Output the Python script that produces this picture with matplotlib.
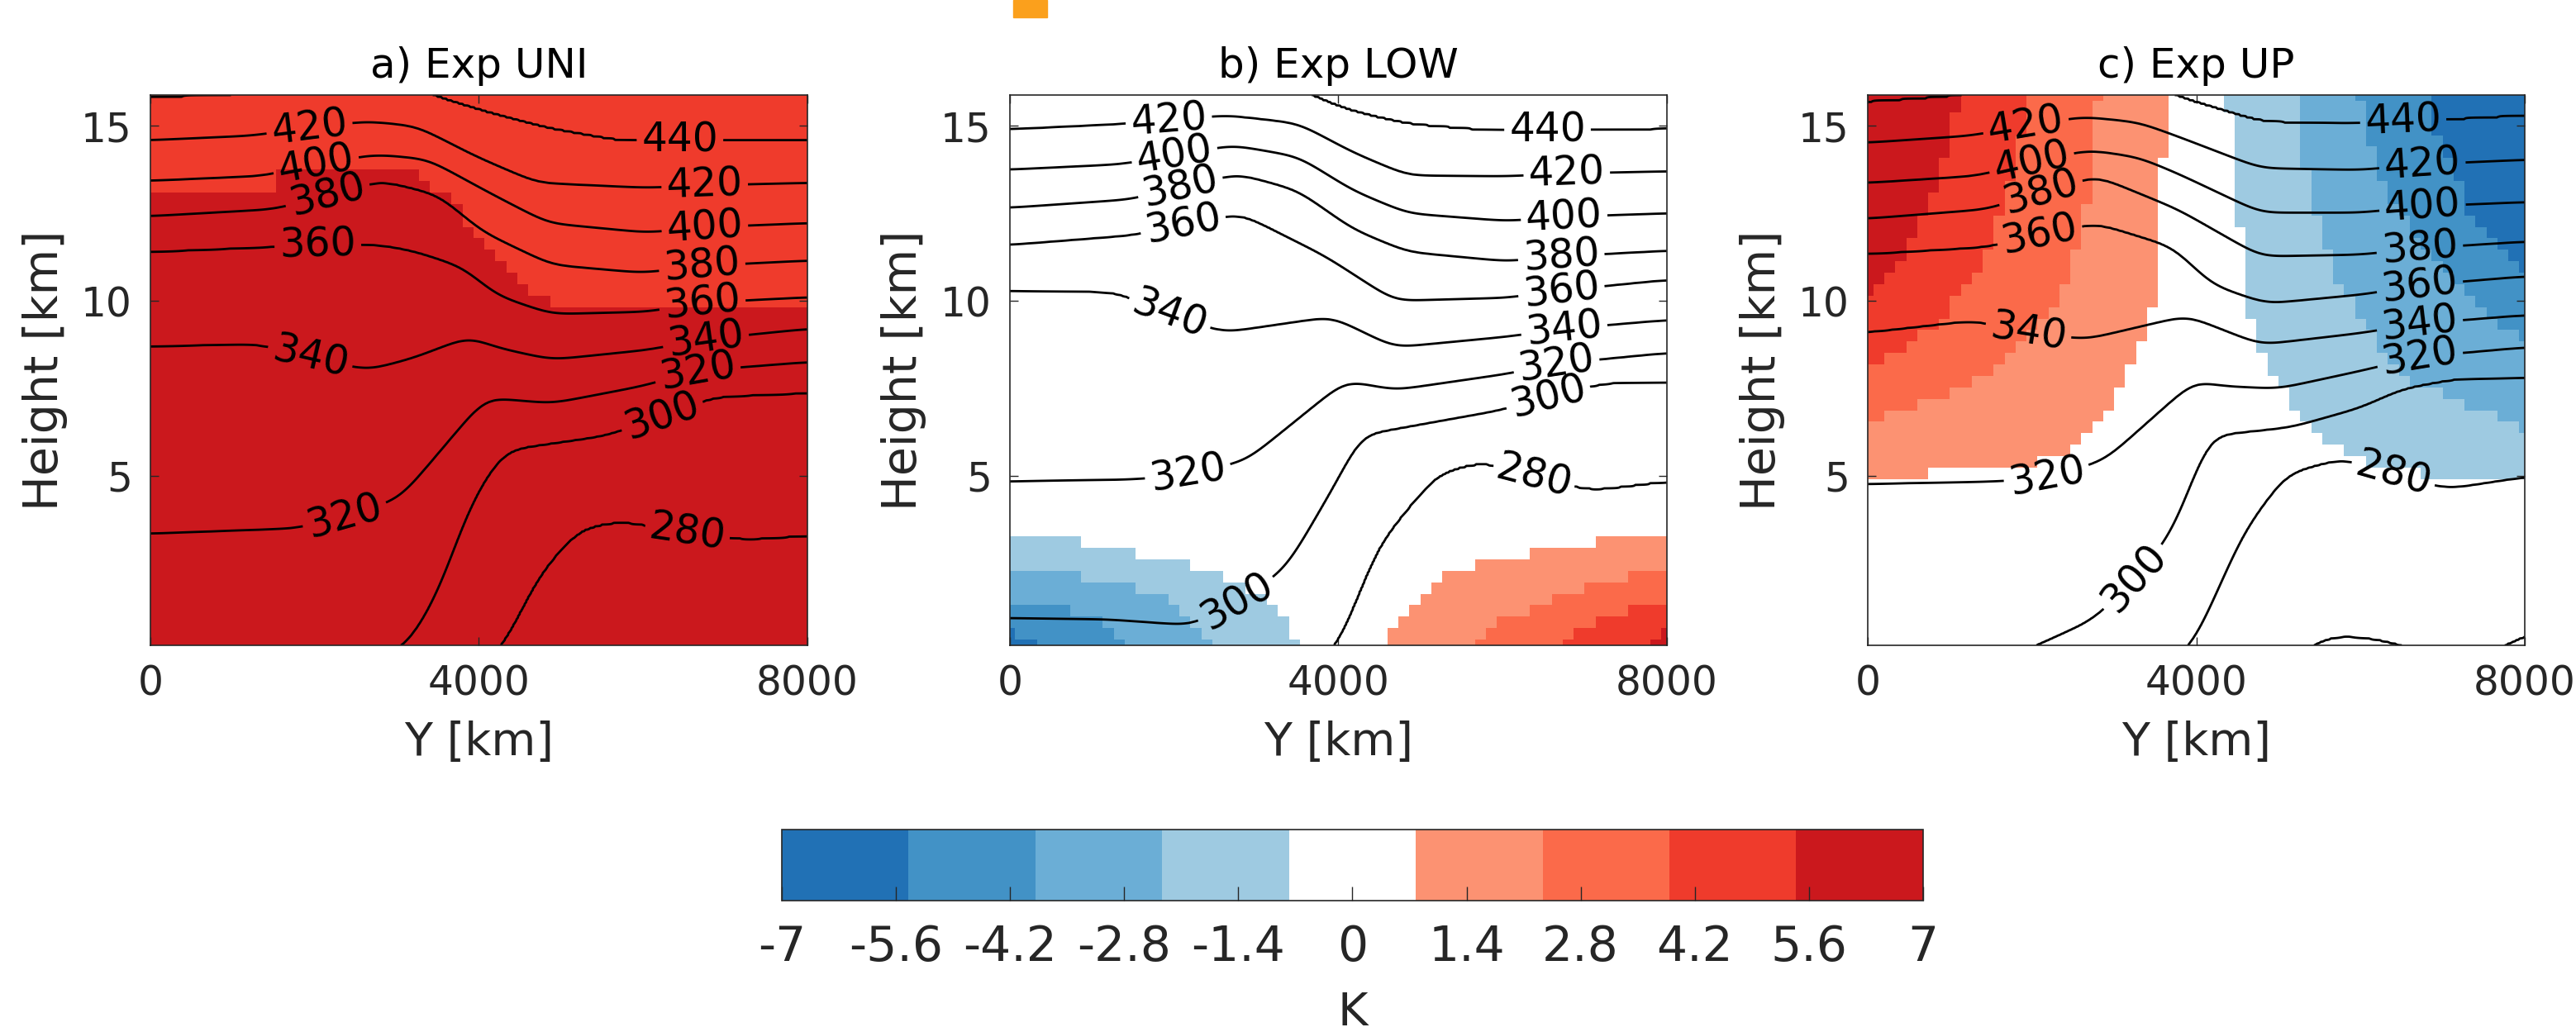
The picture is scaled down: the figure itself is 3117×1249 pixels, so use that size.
import numpy as np
import matplotlib
matplotlib.use("Agg")
import matplotlib.pyplot as plt
from matplotlib.colors import ListedColormap
from matplotlib.patches import Rectangle

plt.rcParams['font.family'] = ['DejaVu Sans']

# ---------------- data ----------------
titles = ['a) Exp UNI', 'b) Exp LOW', 'c) Exp UP']
theta_levels = [260, 280, 300, 320, 340, 360, 380, 400, 420, 440]
cbar_ticks = [-7, -5.6, -4.2, -2.8, -1.4, 0, 1.4, 2.8, 4.2, 5.6, 7]
band_colors = ['#2171b5', '#4292c6', '#6baed6', '#9ecae1', '#ffffff',
               '#fc9272', '#fb6a4a', '#ef3b2c', '#cb181d']

# isentrope heights, (Y [km], z [km]); points outside 0..16 km are off-panel
UNI_280 = [(0, -4), (2500, -3), (3800, -1), (4311, 0.17), (4716, 2.14), (5220, 3.49),
           (5723, 3.72), (6400, 3.45), (7235, 3.18), (8000, 3.3)]
UNI_300 = [(0, -1.5), (2500, -0.5), (3141, 0.17), (3508, 1.66), (3879, 4.12), (4212, 5.44),
           (4350, 5.75), (5550, 6.15), (6215, 6.7), (6862, 7.26), (8000, 7.37)]
UNI_320 = [(0, 3.35), (1771, 3.5), (2400, 3.85), (3041, 4.36), (4080, 7.24), (4887, 7.07),
           (5995, 7.57), (6650, 8.0), (8000, 8.25)]
UNI_340 = [(0, 8.7), (1303, 8.77), (1938, 8.4), (2640, 8.02), (3204, 8.37), (3879, 8.98),
           (4212, 8.67), (4887, 8.32), (6056, 8.6), (6750, 8.9), (8000, 9.2)]
UNI_360 = [(0, 11.4), (1437, 11.54), (2038, 11.6), (2773, 11.61), (3204, 11.43), (3809, 10.96),
           (4212, 10.16), (4887, 9.62), (6056, 9.69), (6716, 9.95), (8000, 10.1)]
UNI_380 = [(0, 12.42), (1504, 12.62), (2139, 13.0), (2807, 13.44), (3508, 13.03), (4040, 11.98),
           (4887, 11.03), (5995, 10.8), (6716, 11.0), (8000, 11.15)]
UNI_400 = [(0, 13.43), (1370, 13.57), (2005, 13.9), (2740, 14.18), (3375, 14.05), (4177, 13.03),
           (4845, 12.22), (6048, 11.95), (6750, 12.1), (8000, 12.22)]
UNI_420 = [(0, 14.59), (1236, 14.72), (1938, 14.95), (2640, 15.13), (3241, 14.99), (3976, 14.11),
           (4711, 13.37), (6048, 13.23), (6750, 13.3), (8000, 13.37)]
UNI_440 = [(0, 15.8), (1236, 15.9), (2400, 16.3), (3400, 15.95), (3508, 15.8), (4177, 15.33),
           (4845, 14.92), (5714, 14.56), (8000, 14.56)]

LOW_280 = [(0, -4), (3000, -2), (3700, -0.5), (4011, 0.18), (4474, 3.0), (5200, 5.07),
           (5753, 5.42), (6382, 5.0), (7073, 4.59), (8000, 4.85)]
LOW_300 = [(0, 0.94), (1200, 0.9), (2206, 0.73), (2773, 1.4), (3365, 2.35), (4111, 5.37),
           (4232, 6.15), (5935, 6.86), (6549, 7.25), (7245, 7.66), (8000, 7.68)]
LOW_320 = [(0, 4.84), (1541, 4.9), (2172, 5.04), (2882, 5.44), (4091, 7.73), (4685, 7.45),
           (6066, 7.92), (6650, 8.2), (8000, 8.51)]
LOW_340 = [(0, 10.3), (1310, 10.25), (1938, 9.6), (2610, 9.1), (3920, 9.55), (4685, 8.67),
           (6066, 8.98), (6750, 9.2), (8000, 9.45)]
LOW_360 = [(0, 11.6), (1512, 11.88), (2105, 12.2), (2811, 12.5), (3850, 11.27), (4685, 10.0),
           (6066, 10.09), (6716, 10.3), (8000, 10.6)]
LOW_380 = [(0, 12.66), (1471, 12.9), (2072, 13.25), (2781, 13.63), (3508, 13.16), (4177, 12.05),
           (4845, 11.4), (6048, 11.13), (6716, 11.27), (8000, 11.43)]
LOW_400 = [(0, 13.75), (1340, 13.9), (2005, 14.15), (2710, 14.45), (3517, 14.12), (4181, 13.15),
           (4847, 12.5), (6055, 12.28), (6750, 12.4), (8000, 12.5)]
LOW_420 = [(0, 14.9), (1271, 15.04), (1938, 15.15), (2640, 15.3), (3517, 15.07), (4181, 14.24),
           (4847, 13.58), (6055, 13.56), (6783, 13.64), (8000, 13.7)]
LOW_440 = [(0, 16.6), (2500, 16.8), (3400, 16.2), (3728, 15.8), (4181, 15.4), (4847, 15.04),
           (5855, 14.85), (6549, 14.86), (8000, 14.9)]

UP_260 = [(0, -6), (4000, -3), (5100, -0.4), (5400, 0.2), (5710, 0.45), (6200, 0.35),
          (6600, 0.1), (7200, -0.2), (7750, 0.1), (8000, 0.5)]
UP_280 = [(0, -4), (3000, -1.5), (3600, -0.5), (3970, 0.18), (4573, 3.4), (5095, 5.07),
          (5787, 5.51), (6387, 5.05), (7053, 4.63), (8000, 4.97)]
UP_300 = [(0, -2), (1500, -0.4), (2080, 0.18), (2753, 0.9), (3253, 2.06), (3718, 3.4),
          (4150, 6.15), (5156, 6.39), (6000, 6.95), (6503, 7.49), (7166, 7.78), (8000, 7.8)]
UP_320 = [(0, 4.77), (1553, 4.84), (2187, 4.95), (2887, 5.45), (3980, 7.73), (4281, 7.57),
          (4995, 7.49), (6000, 8.0), (6720, 8.4), (8000, 8.67)]
UP_340 = [(0, 9.1), (1287, 9.44), (1953, 9.1), (2653, 8.9), (3887, 9.58), (4784, 8.75),
          (6000, 9.08), (6720, 9.35), (8000, 9.59)]
UP_360 = [(0, 11.34), (1453, 11.54), (2087, 11.9), (2787, 12.22), (3720, 11.54), (4187, 10.46),
          (4853, 9.92), (6053, 10.19), (6720, 10.45), (8000, 10.7)]
UP_380 = [(0, 12.35), (1453, 12.62), (2087, 13.1), (2787, 13.57), (3782, 12.61), (4784, 11.27),
          (6000, 11.32), (6720, 11.5), (8000, 11.69)]
UP_400 = [(0, 13.37), (1320, 13.57), (1987, 13.95), (2687, 14.31), (3300, 14.1), (3782, 13.63),
          (4784, 12.52), (6000, 12.52), (6753, 12.7), (8000, 12.82)]
UP_420 = [(0, 14.52), (1253, 14.72), (1920, 15.0), (2620, 15.26), (3300, 15.1), (3782, 14.69),
          (4784, 13.79), (6000, 13.74), (6753, 13.9), (8000, 14.03)]
UP_440 = [(0, 15.67), (955, 15.82), (1400, 15.95), (2500, 16.4), (3500, 16.1), (3782, 15.82),
          (4784, 15.11), (5830, 15.04), (6520, 15.1), (8000, 15.28)]

# heights of the colour-band edges (|anomaly| = 0.78, 2.33, 3.89, 5.44 K)
UNI_EDGE_544 = [(0, 13.1), (1550, 13.1), (1600, 13.9), (3050, 13.9), (3650, 12.9), (4050, 11.55),
                (4500, 10.47), (5150, 9.64), (5250, 9.9), (8000, 9.9)]

LOW_COLD_078 = [(0, 3.34), (470, 3.34), (1500, 2.8), (2170, 2.46), (2840, 1.94), (3240, 1.26),
                (3510, 0.1), (4500, -1)]
LOW_COLD_233 = [(0, 2.3), (1000, 2.1), (1800, 1.6), (2200, 1.0), (2467, 0.1), (3500, -2)]
LOW_COLD_389 = [(0, 1.35), (700, 1.2), (1100, 0.8), (1440, 0.1), (2500, -3)]
LOW_COLD_544 = [(0, 0.5), (200, 0.4), (411, 0.1), (1500, -4)]
LOW_WARM_078 = [(3500, -1), (4545, 0.1), (4845, 1.26), (5180, 2.05), (5850, 2.62), (6850, 2.95),
                (7700, 3.34), (8000, 3.34)]
LOW_WARM_233 = [(4600, -2), (5600, 0.1), (6000, 0.85), (6600, 1.5), (7300, 2.0), (8000, 2.3)]
LOW_WARM_389 = [(5700, -3), (6630, 0.1), (7000, 0.7), (7500, 1.1), (8000, 1.4)]
LOW_WARM_544 = [(6800, -4), (7710, 0.1), (8000, 0.6)]

UP_WARM_078 = [(0, 4.97), (784, 5.09), (1628, 5.21), (2294, 5.54), (2633, 6.08), (2965, 6.95),
               (3136, 7.73), (3300, 8.5), (3500, 9.69), (3560, 11.27), (3600, 15.9), (3700, 17)]
UP_WARM_233 = [(0, 6.55), (281, 6.79), (955, 7.33), (1628, 8.13), (2130, 9.31), (2462, 10.87),
               (2633, 12.05), (2734, 13.63), (2794, 15.9), (2900, 18)]
UP_WARM_389 = [(0, 8.13), (452, 8.5), (955, 9.69), (1457, 11.27), (1750, 13.5), (1960, 15.9),
               (2100, 19)]
UP_WARM_544 = [(0, 10.2), (281, 10.8), (623, 12.05), (955, 14.03), (1125, 15.9), (1300, 20)]
UP_COLD_078 = [(4300, 17), (4400, 15.9), (4492, 12.85), (4623, 10.49), (4653, 8.91), (4995, 7.73),
               (5156, 6.95), (5829, 5.54), (6332, 5.14), (7166, 5.0), (8000, 4.95)]
UP_COLD_233 = [(5100, 18), (5196, 15.9), (5327, 13.63), (5658, 10.87), (6161, 8.91), (6663, 7.66),
               (7337, 6.95), (8000, 6.35)]
UP_COLD_389 = [(5850, 19), (5960, 15.9), (6161, 14.03), (6503, 12.45), (7005, 10.87),
               (7508, 9.69), (8000, 8.8)]
UP_COLD_544 = [(6650, 20), (6760, 15.9), (7337, 12.45), (8000, 10.8)]

# contour label spots (Y, z)
UNI_LABELS = [(1938, 14.92), (2005, 14.04), (2139, 13.16), (2038, 11.75), (1938, 8.3), (2372, 3.82),
              (6449, 14.56), (6750, 13.3), (6750, 12.15), (6716, 11.07), (6716, 10.05),
              (6750, 9.1), (6650, 8.15), (6215, 6.8), (6516, 3.3)]
LOW_LABELS = [(1938, 15.13), (2005, 14.18), (2072, 13.3), (2105, 12.3), (1938, 9.6), (2172, 5.04),
              (2773, 1.39), (6549, 14.86), (6783, 13.64), (6750, 12.42), (6716, 11.27),
              (6716, 10.32), (6750, 9.24), (6650, 8.3), (6549, 7.3), (6382, 4.95)]
UP_LABELS = [(1920, 15.06), (1987, 14.04), (2087, 13.23), (2087, 12.0), (1953, 9.1), (2187, 4.91),
             (3253, 2.06), (6520, 15.13), (6753, 13.91), (6753, 12.76), (6720, 11.54),
             (6720, 10.46), (6720, 9.37), (6720, 8.42), (6387, 4.95)]

# ---------------- field construction ----------------
def line_heights(ln, yy, sigma):
    ys = np.arange(-1500, 9501, 10.0)
    h = np.interp(ys, [p[0] for p in ln], [p[1] for p in ln])
    k = np.exp(-0.5 * (np.arange(-4 * sigma, 4 * sigma + 1, 10.0) / sigma) ** 2)
    h = np.convolve(h, k / k.sum(), mode='same')
    return np.interp(yy, ys, h)


def column_field(lines, values, yy, zz, lo, hi, ramp, sigma):
    hs = [line_heights(ln, yy, sigma) for ln in lines]
    out = np.empty((len(zz), len(yy)))
    for j in range(len(yy)):
        h = [hh[j] for hh in hs]
        xp = [h[0] - ramp] + h + [h[-1] + ramp]
        fp = [lo] + list(values) + [hi]
        out[:, j] = np.interp(zz, xp, fp)
    return out

edges = np.linspace(-7, 7, 10)[5:9]   # 0.78, 2.33, 3.89, 5.44

y_fine = np.linspace(0, 8000, 401)
z_fine = np.linspace(0.16, 15.88, 320)
y_cell = np.linspace(0, 8000, 61)
z_cell = np.linspace(0.16, 15.88, 49)

theta_sets = [
    ([UNI_280, UNI_300, UNI_320, UNI_340, UNI_360, UNI_380, UNI_400, UNI_420, UNI_440], theta_levels[1:]),
    ([LOW_280, LOW_300, LOW_320, LOW_340, LOW_360, LOW_380, LOW_400, LOW_420, LOW_440], theta_levels[1:]),
    ([UP_260, UP_280, UP_300, UP_320, UP_340, UP_360, UP_380, UP_400, UP_420, UP_440], theta_levels),
]
thetas = [column_field(ls, lv, y_fine, z_fine, lv[0] - 20, lv[-1] + 20, 30.0, 150.0)
          for ls, lv in theta_sets]


def blob(lines, vals, lo, hi):
    return column_field(lines, vals, y_cell, z_cell, lo, hi, 0.05, 60.0)

anom_uni = blob([UNI_EDGE_544], [edges[3]], 6.3, 4.6)
anom_low = (-blob([LOW_COLD_544, LOW_COLD_389, LOW_COLD_233, LOW_COLD_078], edges[::-1], 6.3, 0.0)
            + blob([LOW_WARM_544, LOW_WARM_389, LOW_WARM_233, LOW_WARM_078], edges[::-1], 6.3, 0.0))
anom_up = (blob([UP_WARM_078, UP_WARM_233, UP_WARM_389, UP_WARM_544], edges, 0.0, 6.3)
           - blob([UP_COLD_078, UP_COLD_233, UP_COLD_389, UP_COLD_544], edges, 0.0, 6.3))
anoms = [anom_uni, anom_low, anom_up]
label_sets = [UNI_LABELS, LOW_LABELS, UP_LABELS]

# ---------------- drawing ----------------
cmap = ListedColormap(band_colors)
txt = '#262626'
fig = plt.figure(figsize=(31.17, 12.49), dpi=100)
lefts = [0.0584, 0.392, 0.7251]

for i in range(3):
    ax = fig.add_axes([lefts[i], 0.3747, 0.2550, 0.5332])
    mesh = ax.pcolormesh(y_cell, z_cell, anoms[i], cmap=cmap, vmin=-7, vmax=7, shading='nearest')
    ax.set_xlim(0, 8000)
    ax.set_ylim(0.16, 15.88)
    cs = ax.contour(y_fine, z_fine, thetas[i], levels=theta_levels, colors='k', linewidths=2.0)
    ax.clabel(cs, manual=label_sets[i], fmt='%d', fontsize=35, inline=True, inline_spacing=6)
    ax.set_xticks([0, 4000, 8000])
    ax.set_yticks([5, 10, 15])
    ax.tick_params(direction='in', length=7, width=1, top=True, right=True,
                   labelsize=35, colors=txt)
    ax.tick_params(axis='x', pad=16)
    ax.tick_params(axis='y', pad=16)
    for s in ax.spines.values():
        s.set_color(txt)
        s.set_linewidth(1.2)
    ax.set_xlabel('Y [km]', fontsize=40, color=txt, va='center')
    ax.xaxis.set_label_coords(0.5, -0.177)
    ax.set_ylabel('Height [km]', fontsize=41, color=txt, va='center')
    ax.yaxis.set_label_coords(-0.161, 0.5)
    ax.text(0.5, 1.0526, titles[i], transform=ax.transAxes, ha='center', va='center',
            fontsize=36, color='black')

cax = fig.add_axes([0.3035, 0.1274, 0.443, 0.0688])
cb = fig.colorbar(mesh, cax=cax, orientation='horizontal', ticks=cbar_ticks)
cb.ax.set_xticklabels([f'{t:g}' for t in cbar_ticks])
cb.ax.tick_params(direction='in', length=12, width=1, labelsize=42, pad=20, colors=txt)
cb.outline.set_edgecolor(txt)
cb.outline.set_linewidth(1.2)
cb.set_label('K', fontsize=40, color=txt, va='center')
cb.ax.xaxis.set_label_coords(0.5, -1.584)

# small orange mark at the top edge of the original image
fig.patches.append(Rectangle((1226 / 3117, 1 - 21 / 1249), 41 / 3117, 21 / 1249,
                             transform=fig.transFigure, color='#fba01c', zorder=5))

fig.savefig('out.png', dpi=100, facecolor='white')
